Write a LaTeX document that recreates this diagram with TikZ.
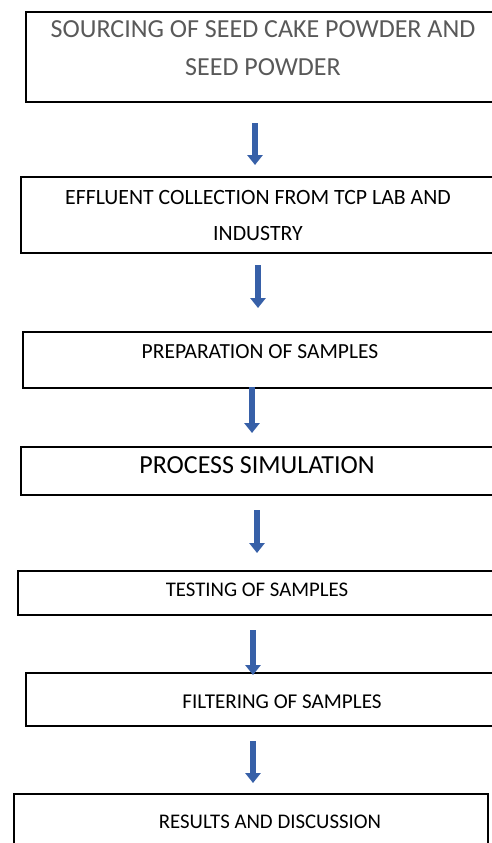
\documentclass[tikz,border=0pt]{standalone}
\usepackage{fontspec}
\setmainfont{Carlito}
\usetikzlibrary{arrows.meta,fit}
\definecolor{arrowblue}{HTML}{3760A8}
\definecolor{textgray}{HTML}{595959}

\begin{document}
\begin{tikzpicture}[x=0.025cm, y=-0.025cm,
		stepbox/.style={draw, line width=0.9pt, inner sep=0pt},
		steptext/.style={inner sep=0pt, align=center},
		flowarrow/.style={draw=arrowblue, line width=4pt, -{Triangle[width=10.6pt, length=7pt]}}]
			\useasboundingbox (0, 0) rectangle (492, 843);
			\clip (0, 0) rectangle (492, 843);

			% boxes
			\node[stepbox, fit={(26, 12) (540, 102)}] 		(sourcing) 		{};
			\node[stepbox, fit={(21, 177) (540, 253)}] 		(collection) 	{};
			\node[stepbox, fit={(23, 332) (540, 388)}] 		(preparation) 	{};
			\node[stepbox, fit={(21, 447) (540, 495)}] 		(simulation) 	{};
			\node[stepbox, fit={(18, 571) (540, 615)}] 		(testing) 		{};
			\node[stepbox, fit={(26, 673) (540, 726)}] 		(filtering) 	{};
			\node[stepbox, fit={(14, 794) (488, 870)}] 		(results) 		{};

			% texts
			\draw (263, 48.5) 	node[steptext, text=textgray, font=\fontsize{18.5}{27}\selectfont] 	(sourcing_t) 		{SOURCING OF SEED CAKE POWDER AND\\SEED POWDER};
			\draw (258, 215.5) 	node[steptext, font=\fontsize{15.5}{25}\selectfont] 	(collection_t) 		{EFFLUENT COLLECTION FROM TCP LAB AND\\INDUSTRY};
			\draw (260, 352) 	node[steptext, font=\fontsize{15.3}{18}\selectfont] 	(preparation_t) 	{PREPARATION OF SAMPLES};
			\draw (257, 465.5) 	node[steptext, font=\fontsize{18.5}{22}\selectfont] 	(simulation_t) 		{PROCESS SIMULATION};
			\draw (257, 590) 	node[steptext, font=\fontsize{14.8}{18}\selectfont] 	(testing_t) 		{TESTING OF SAMPLES};
			\draw (282, 701.5) 	node[steptext, font=\fontsize{15}{18}\selectfont] 	(filtering_t) 		{FILTERING OF SAMPLES};
			\draw (270, 821.5) 	node[steptext, font=\fontsize{14.8}{18}\selectfont] 	(results_t) 		{RESULTS AND DISCUSSION};

			% arrows
			\coordinate (a1) at (255, 123); 	\coordinate (a1_end) at (255, 165);
			\coordinate (a2) at (258, 265); 	\coordinate (a2_end) at (258, 308);
			\coordinate (a3) at (252, 387); 	\coordinate (a3_end) at (252, 433);
			\coordinate (a4) at (257, 510); 	\coordinate (a4_end) at (257, 553);
			\coordinate (a5) at (253, 630); 	\coordinate (a5_end) at (253, 675);
			\coordinate (a6) at (253, 741); 	\coordinate (a6_end) at (253, 783);

			\draw[flowarrow] (a1) -- (a1_end);
			\draw[flowarrow] (a2) -- (a2_end);
			\draw[flowarrow] (a3) -- (a3_end);
			\draw[flowarrow] (a4) -- (a4_end);
			\draw[flowarrow] (a5) -- (a5_end);
			\draw[flowarrow] (a6) -- (a6_end);
		\end{tikzpicture}
\end{document}
